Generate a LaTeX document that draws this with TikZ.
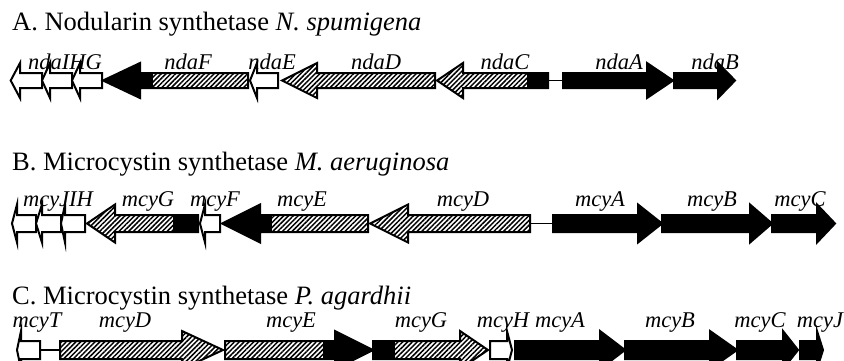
\documentclass[tikz,border=0pt]{standalone}
\usepackage{fontspec}
\setmainfont{Liberation Serif}
\usetikzlibrary{patterns.meta}

\tikzset{
  geneline/.style={draw=black, line width=2pt, line join=miter},
  hatch/.style={pattern={Lines[angle=45,distance=3.4pt,line width=1.5pt]}, pattern color=black},
  title/.style={anchor=base west, inner sep=0pt, font=\fontsize{26.5}{30}\selectfont},
  glabel/.style={anchor=base, inner sep=0pt, font=\fontsize{22.5}{26}\selectfont\itshape},
  spacer/.style={line width=1.8pt}
}

% one gene: tail x, head-base x, tip x, interior fills
\newcommand\gene[4]{%
  \begin{scope}
    \clip (#1,\cy-\hb) -- (#2,\cy-\hb) -- (#2,\cy-\hh) -- (#3,\cy)
      -- (#2,\cy+\hh) -- (#2,\cy+\hb) -- (#1,\cy+\hb) -- cycle;
    \fill[white] (0,\cy-40) rectangle (844,\cy+40);
    #4
  \end{scope}
  \draw[geneline] (#1,\cy-\hb) -- (#2,\cy-\hb) -- (#2,\cy-\hh) -- (#3,\cy)
      -- (#2,\cy+\hh) -- (#2,\cy+\hb) -- (#1,\cy+\hb) -- cycle;
}
\newcommand\gblack[2]{\fill[black] (#1,\cy-40) rectangle (#2,\cy+40);}
\newcommand\ghatch[2]{\fill[hatch] (#1,\cy-40) rectangle (#2,\cy+40);}

\begin{document}
\begin{tikzpicture}[x=1pt,y=-1pt]
\useasboundingbox (0,0) rectangle (844,360);
\clip (0,0) rectangle (844,360);

% ---------------- A. Nodularin synthetase ----------------
\node[title] (tA) at (12,30.5) {A. Nodularin synthetase \textit{N. spumigena}};
\def\cy{80.5}\def\hb{7.5}\def\hh{17.5}
\gene{42}{20}{10.7}{}
\gene{72}{50}{42}{}
\gene{102}{80}{72}{}
\gene{248}{140}{103}{\gblack{100}{153}\ghatch{153}{248}}
\gene{278}{257}{250}{}
\gene{435}{317}{282}{\ghatch{280}{435}}
\gene{548}{463}{437}{\ghatch{430}{527}\gblack{527}{548}}
\coordinate (ndaCend) at (548,\cy);
\coordinate (ndaAstart) at (563,\cy);
\draw[spacer] (ndaCend) -- (ndaAstart);
\gene{563}{647}{673}{\gblack{560}{680}}
\gene{674}{718}{735}{\gblack{670}{740}}
\node[glabel] (lIHG) at (65,69.5) {ndaIHG};
\node[glabel] (lF) at (188,69.5) {ndaF};
\node[glabel] (lE) at (272,69.5) {ndaE};
\node[glabel] (lD) at (376,69.5) {ndaD};
\node[glabel] (lC) at (505,69.5) {ndaC};
\node[glabel] (lA) at (619,69.5) {ndaA};
\node[glabel] (lB) at (715,69.5) {ndaB};

% ---------------- B. Microcystin synthetase M. aeruginosa ----------------
\node[title] (tB) at (12,170) {B. Microcystin synthetase \textit{M. aeruginosa}};
\def\cy{223.5}\def\hb{8.5}\def\hh{19}
\gene{36}{17}{12}{}
\gene{61}{42}{36}{}
\gene{85}{65}{61}{}
\gene{198}{115}{87}{\ghatch{80}{173}\gblack{173}{198}}
\gene{220}{205}{200}{}
\gene{368}{260}{222}{\gblack{220}{272}\ghatch{272}{368}}
\gene{530}{408}{370}{\ghatch{365}{530}}
\coordinate (mDend) at (530,\cy);
\coordinate (mAstart) at (553,\cy);
\draw[spacer] (mDend) -- (mAstart);
\gene{553}{638}{662}{\gblack{550}{665}}
\gene{662}{750}{772}{\gblack{660}{775}}
\gene{772}{817}{835}{\gblack{770}{840}}
\node[glabel] (bJIH) at (58,206) {mcyJIH};
\node[glabel] (bG) at (148,206) {mcyG};
\node[glabel] (bF) at (215,206) {mcyF};
\node[glabel] (bE) at (302,206) {mcyE};
\node[glabel] (bD) at (463,206) {mcyD};
\node[glabel] (bA) at (600,206) {mcyA};
\node[glabel] (bB) at (712,206) {mcyB};
\node[glabel] (bC) at (800,206) {mcyC};

% ---------------- C. Microcystin synthetase P. agardhii ----------------
\node[title] (tC) at (12,304) {C. Microcystin synthetase \textit{P. agardhii}};
\def\cy{350}\def\hb{9}\def\hh{19}
\gene{40}{21}{17}{}
\coordinate (mTend) at (40,\cy);
\coordinate (mDstart) at (60,\cy);
\draw[spacer] (mTend) -- (mDstart);
\gene{60}{182}{223}{\ghatch{55}{230}}
\gene{225}{335}{373}{\ghatch{220}{323}\gblack{323}{380}}
\gene{373}{460}{488}{\gblack{370}{395}\ghatch{395}{495}}
\gene{490}{507}{512}{}
\gene{515}{600}{625}{\gblack{510}{630}}
\gene{625}{710}{737}{\gblack{620}{740}}
\gene{737}{783}{798}{\gblack{735}{800}}
\gene{800}{817}{823}{\gblack{798}{826}}
\node[glabel] (cT) at (37,327) {mcyT};
\node[glabel] (cD) at (125,327) {mcyD};
\node[glabel] (cE) at (291,327) {mcyE};
\node[glabel] (cG) at (421,327) {mcyG};
\node[glabel] (cH) at (503,327) {mcyH};
\node[glabel] (cA) at (560,327) {mcyA};
\node[glabel] (cB) at (670,327) {mcyB};
\node[glabel] (cC) at (760,327) {mcyC};
\node[glabel] (cJ) at (820,327) {mcyJ};
\end{tikzpicture}
\end{document}
